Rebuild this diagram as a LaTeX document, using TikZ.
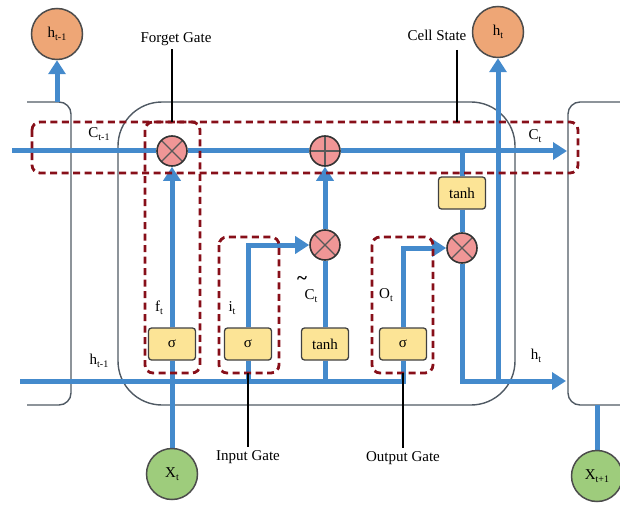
\documentclass[tikz,border=0pt]{standalone}
\usepackage{fontspec}
\setmainfont{Liberation Serif}
\usetikzlibrary{arrows.meta,backgrounds}
\definecolor{lstmblue}{RGB}{68,138,204}
\definecolor{gatered}{RGB}{135,15,25}
\definecolor{cellgray}{RGB}{80,90,100}
\definecolor{actfill}{RGB}{252,228,150}
\definecolor{opfill}{RGB}{240,150,150}
\definecolor{hfill}{RGB}{238,166,118}
\definecolor{xfill}{RGB}{158,204,124}
\newcommand\lowsub[1]{\raisebox{-0.45ex}{\fontsize{10}{10}\selectfont #1}}

\begin{document}
\begin{tikzpicture}[x=1pt,y=-1pt,font=\fontsize{15}{17}\selectfont,
flow/.style={lstmblue,line width=5pt},
flowarr/.style={flow,-{Triangle[width=17pt,length=14pt]}},
cellbox/.style={cellgray,line width=1.4pt,rounded corners=#1},
gatebox/.style={gatered,line width=2.8pt,dash pattern=on 7pt off 4.5pt,rounded corners=8pt},
pointer/.style={black,line width=1.2pt},
act/.style={draw=black!75,line width=1.3pt,fill=actfill,rounded corners=3pt,minimum width=47pt,minimum height=32pt,inner sep=0pt},
op/.style={circle,draw=black!80,line width=1.6pt,fill=opfill,minimum size=30pt,inner sep=0pt},
mul/.style={op,path picture={\draw[black!65,line width=1.2pt] (path picture bounding box.north west) -- (path picture bounding box.south east) (path picture bounding box.north east) -- (path picture bounding box.south west);}},
add/.style={op,path picture={\draw[black!65,line width=1.2pt] (path picture bounding box.north) -- (path picture bounding box.south) (path picture bounding box.west) -- (path picture bounding box.east);}},
io/.style={circle,draw=black!70,line width=1.5pt,minimum size=51pt,inner sep=0pt}]
\useasboundingbox (0,0) rectangle (620,505);
% inputs and outputs
\node[io,fill=hfill] (hprev) at (57,34) {h\lowsub{t-1}};
\node[io,fill=hfill] (hout) at (498,32) {h\lowsub{t}};
\node[io,fill=xfill] (xin) at (172,474) {X\lowsub{t}};
\node[io,fill=xfill] (xnext) at (597,476) {X\lowsub{t+1}};
% gate layers
\node[act] (fsig) at (172,344) {σ};
\node[act] (isig) at (248,344) {σ};
\node[act] (ctanh) at (325,344) {tanh};
\node[act] (osig) at (403,344) {σ};
\node[act] (htanh) at (462,193) {tanh};
% pointwise operations
\node[mul] (fmul) at (172,151) {};
\node[add] (cadd) at (325,151) {};
\node[mul] (imul) at (325,245) {};
\node[mul] (omul) at (462,248) {};
\coordinate (cin) at (12,151);
\coordinate (cout) at (567,151);
\coordinate (hin) at (20,381);
\coordinate (hnext) at (566,381);
\coordinate (hprevtop) at (57,102);
\coordinate (xnexttop) at (597,405);
\begin{scope}[on background layer]
\draw[cellbox=12pt] (27,102) -- (71,102) -- (71,405) -- (27,405);
\draw[cellbox=44pt] (118,102) rectangle (515,405);
\draw[cellbox=12pt] (620,102) -- (568,102) -- (568,405) -- (620,405);
% cell state
\draw[flow] (cin) -- (fmul);
\draw[flow] (fmul) -- (cadd);
\draw[flowarr] (cadd) -- (cout);
\draw[flow] (htanh) -- (htanh |- cin);
\draw[flow] (htanh) -- (omul);
\draw[flowarr] (omul) |- (hnext);
\draw[flowarr] (hnext -| hout) -- (hout);
\draw[flowarr] (hprevtop) -- (hprev);
\draw[flow] (xnexttop) -- (xnext);
% hidden state and gates
\draw[flow] (hin) -| (osig);
\draw[flow] (xin) -- (fsig);
\draw[flowarr] (fsig) -- (fmul);
\draw[flow] (isig) -- (isig |- hin);
\draw[flowarr] (isig.north) |- (imul);
\draw[flow] (ctanh) -- (ctanh |- hin);
\draw[flow] (ctanh) -- (imul);
\draw[flowarr] (imul) -- (cadd);
\draw[flowarr] (osig.north) |- (omul);
\end{scope}
% gate outlines
\draw[gatebox] (32,122) rectangle (578,173);
\draw[gatebox] (145,122) rectangle (200,373);
\draw[gatebox] (219,237) rectangle (279,373);
\draw[gatebox] (372,237) rectangle (433,373);
% labels
\node (cprevl) at (99,134) {C\lowsub{t-1}};
\node (cl) at (535,136) {C\lowsub{t}};
\node (ftl) at (159,308) {f\lowsub{t}};
\node (itl) at (232,308) {i\lowsub{t}};
\node (ctl) at (311,296) {C\lowsub{t}};
\node (ctil) at (302,280) {\fontsize{19}{19}\selectfont\bfseries\textasciitilde};
\node (otl) at (386,295) {O\lowsub{t}};
\node (hprevl) at (99,361) {h\lowsub{t-1}};
\node (hl) at (536,356) {h\lowsub{t}};
\node (fgl) at (176,39) {Forget Gate};
\node (csl) at (437,35) {Cell State};
\node (igl) at (248,457) {Input Gate};
\node (ogl) at (403,458) {Output Gate};
\coordinate (fgend) at (172,122);
\coordinate (cstop) at (457,50);
\coordinate (csend) at (457,122);
\coordinate (igend) at (248,373);
\coordinate (ogend) at (403,373);
\draw[pointer] (fgl.south -| fgend) -- (fgend);
\draw[pointer] (cstop) -- (csend);
\draw[pointer] (igend) -- (igl.north -| igend);
\draw[pointer] (ogend) -- (ogl.north -| ogend);
\end{tikzpicture}
\end{document}
